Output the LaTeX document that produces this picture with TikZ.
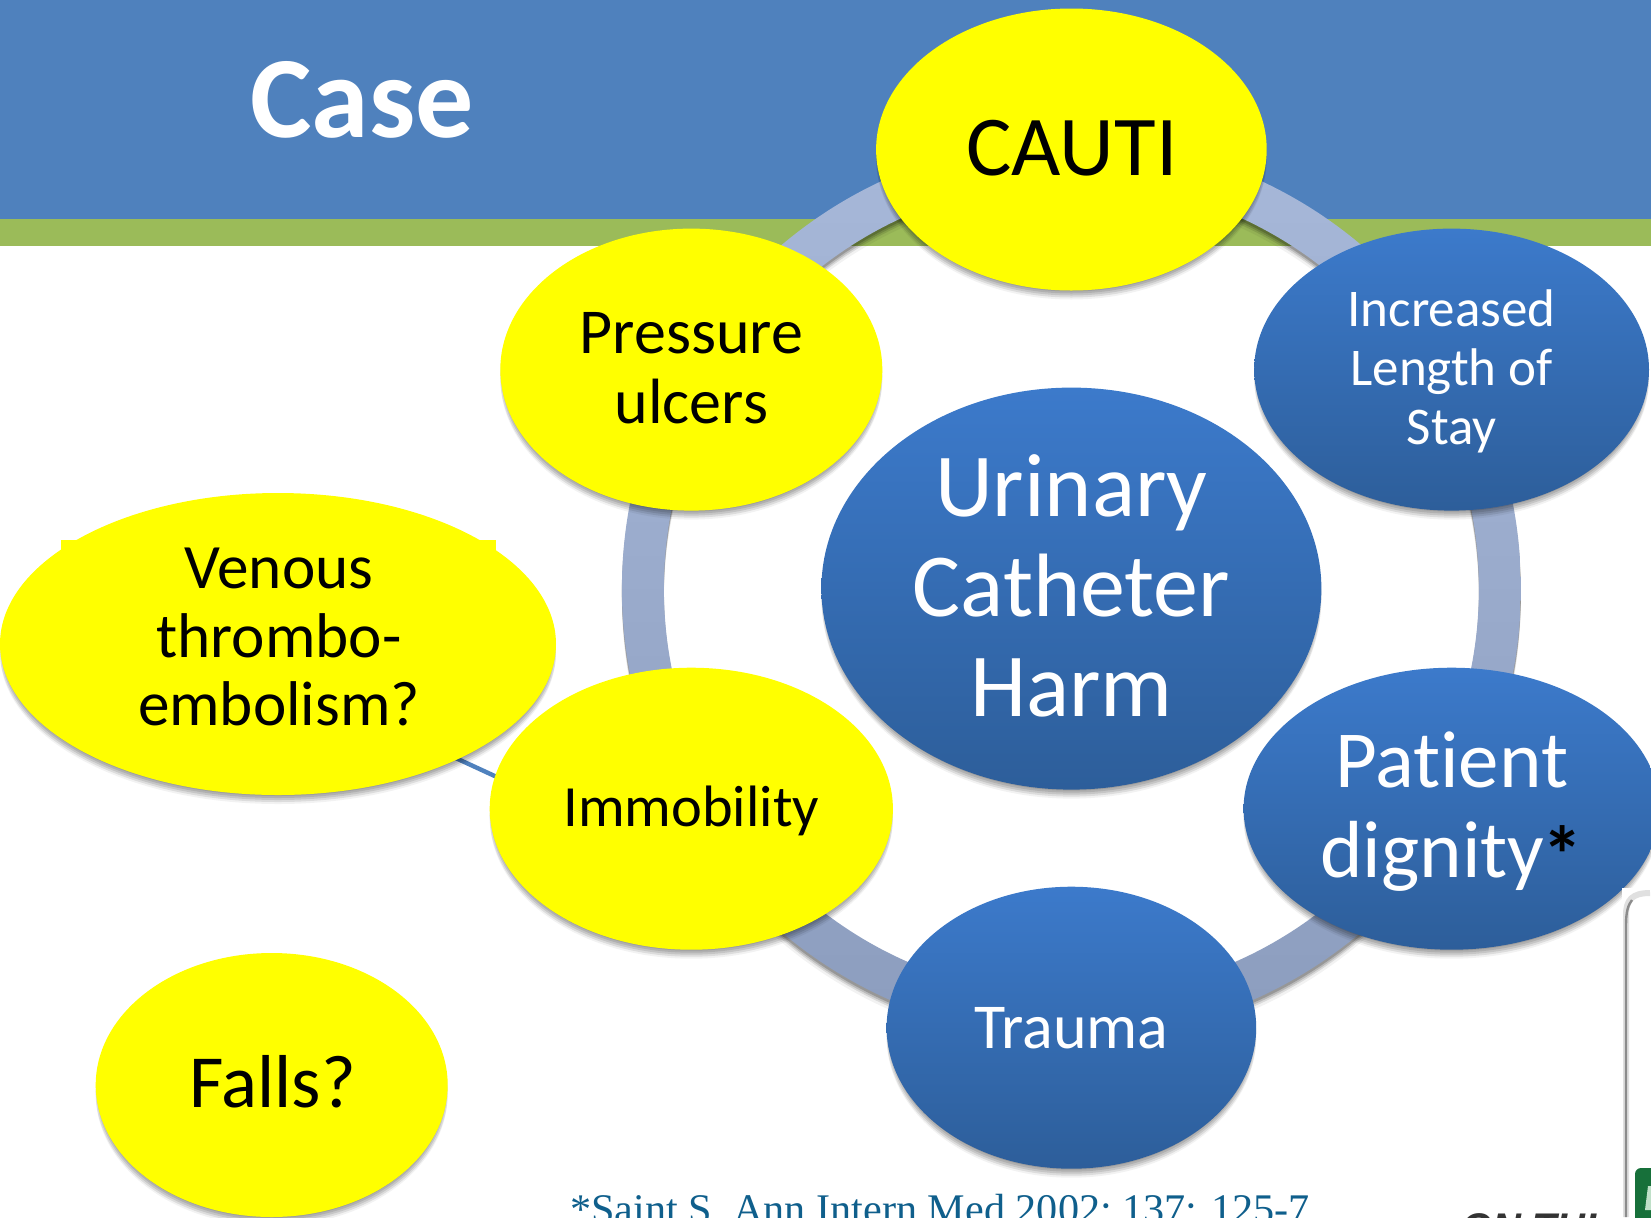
\documentclass[tikz,border=0pt]{standalone}
\usepackage{fontspec}
\setmainfont[Ligatures=NoCommon]{Carlito}
\newfontfamily\serifft{Liberation Serif}
\newfontfamily\sansft{Liberation Sans}
\usetikzlibrary{shapes.geometric,calc}
\pgfdeclarelayer{back}
\pgfsetlayers{back,main}
\definecolor{hdr}{HTML}{4F81BD}
\definecolor{grn}{HTML}{9BBB59}
\definecolor{ylw}{HTML}{FFFF00}
\definecolor{btop}{HTML}{3C7ACB}
\definecolor{bbot}{HTML}{2D5E9A}
\definecolor{rtop}{HTML}{A7B8D9}
\definecolor{rbot}{HTML}{8C9DBE}
\definecolor{note}{HTML}{0F5F8C}
\definecolor{pgreen}{HTML}{17703A}
\definecolor{pletter}{HTML}{BFE0C8}
\newcommand{\fsz}[2]{\fontsize{#1pt}{#2pt}\selectfont}
\tikzset{
  x=0.5pt,y=-0.5pt,
  yellowbub/.style={ellipse,inner sep=0pt,fill=ylw},
  bluebub/.style={ellipse,inner sep=0pt,top color=btop,bottom color=bbot,draw=none},
  blk/.style={align=center,text=black,inner sep=0pt},
  wht/.style={align=center,text=white,inner sep=0pt},
}
% name, x, y, rx, ry, style
\newcommand{\bub}[6]{%
  \foreach \d/\o/\w in {0/9/.05,0/7/.09,-1/6/.10,-2/5/.10,-3/4/.10}{%
    \fill[black,opacity=\w] (#2,#3+\o) ellipse ({#4+\d} and {#5+\d});}%
  \node[#6,minimum width=#4 pt,minimum height=#5 pt] (#1) at (#2,#3) {};}
\begin{document}
\begin{tikzpicture}
\useasboundingbox (0,0) rectangle (1651,1217);
\clip (0,0) rectangle (1651,1217);
\begin{pgfonlayer}{back}
  \fill[white] (0,0) rectangle (1651,1217);
  \fill[hdr] (0,0) rectangle (1651,219);
  \fill[grn] (0,219) rectangle (1651,246);
  \foreach \o/\w in {3/.18,5/.14,7/.10,10/.05}{%
    \fill[black,opacity=\w,even odd rule] (1071.4,588.6+\o) circle (449.5) circle (407.5);}
  \shade[top color=rtop,bottom color=rbot,even odd rule] (1071.4,588.6) circle (449.5) circle (407.5);
\end{pgfonlayer}
% Venous backing patch
\fill[ylw] (61,540) rectangle (496,600);
\bub{ven}{278}{644}{278}{151}{yellowbub}
\bub{falls}{271.7}{1085}{176}{132}{yellowbub}
\bub{cauti}{1071.4}{149.5}{195.3}{141}{yellowbub}
\bub{press}{691.3}{369.6}{191}{141}{yellowbub}
\bub{imm}{691.3}{808.7}{201.6}{141}{yellowbub}
\bub{stay}{1451.6}{369.6}{197.4}{141}{bluebub}
\bub{harm}{1071.4}{588.6}{250}{201}{bluebub}
\bub{dign}{1451.6}{808.7}{208}{141}{bluebub}
\bub{trauma}{1071.4}{1027.7}{184.8}{141}{bluebub}
\begin{pgfonlayer}{back}
  \draw[hdr,line width=2.2pt] ([yshift=-16pt]ven.center) -- ([yshift=-29pt]imm.center);
\end{pgfonlayer}
\node[wht,font=\fsz{58}{64}\bfseries] (case) at (362,100) {Case};
\node[blk,font=\fsz{42.6}{50}] (caut) at (1072,148) {CAUTI};
\node[blk,font=\fsz{32}{35}] (presst) at (691.3,368) {Pressure\\ulcers};
\node[blk,font=\fsz{29.2}{35}] (immt) at (691.3,811) {Immobility};
\node[blk,font=\fsz{31.6}{34.3}] (vent) at (279,637) {Venous\\thrombo-\\embolism?};
\node[blk,font=\fsz{37.5}{44}] (fallst) at (272.5,1082) {Falls?};
\node[wht,font=\fsz{26.5}{29.5}] (stayt) at (1451.6,371.5) {Increased\\Length of\\Stay};
\node[wht,font=\fsz{45}{50}] (harmt) at (1071.4,585.6) {Urinary\\Catheter\\Harm};
\node[wht,font=\fsz{40.5}{45}] (dignt) at (1451.6,812) {Patient\\dignity\kern-1pt\textcolor{black}{\raisebox{-3pt}{\bfseries *}}};
\node[wht,font=\fsz{32}{35}] (traumat) at (trauma) {Trauma};
\node[inner sep=0pt,anchor=base west,text=note,font=\serifft\fontsize{21.1}{24}\selectfont] (cite) at (570,1223) {*Saint S. Ann Intern Med 2002; 137: 125-7};
\node[inner sep=0pt,anchor=base west,text=black!80,font=\sansft\fontsize{20}{24}\selectfont\bfseries\itshape] (on) at (1461,1241) {ON THI};
% panel at lower right
\fill[white] (1622,888) rectangle (1651,1217);
\draw[black!12,line width=3pt] (1626,1217) -- (1626,915) .. controls (1626,900) and (1632,893) .. (1650,893);
\draw[black!45,line width=1.2pt] (1626,1217) -- (1626,925) .. controls (1626,912) and (1628,905) .. (1632,900);
\fill[pgreen,rounded corners=3pt] (1635,1168) rectangle (1670,1240);
\fill[pletter] (1648,1186) -- (1652,1186) -- (1652,1210) -- (1645,1210) -- cycle;
\end{tikzpicture}
\end{document}
